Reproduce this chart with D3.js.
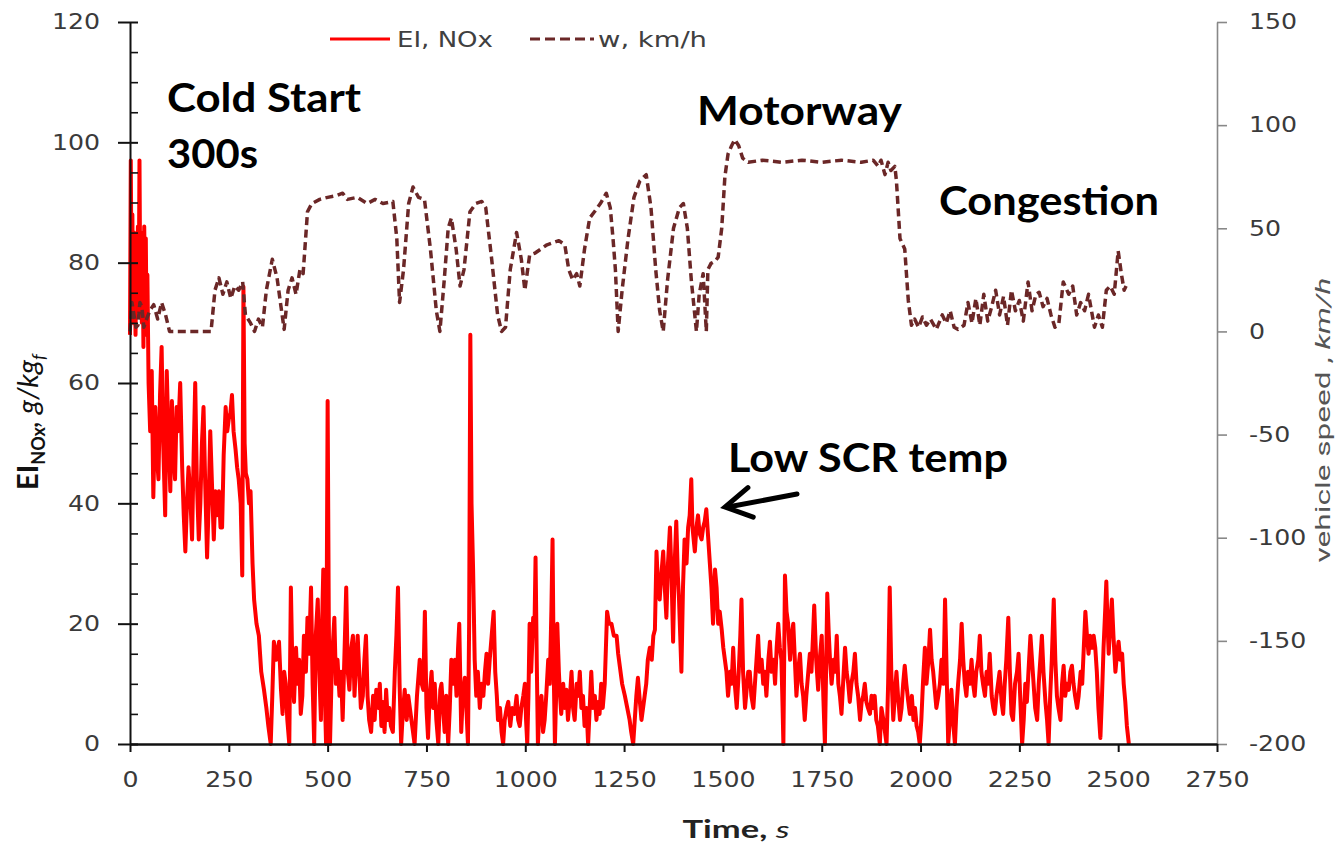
<!DOCTYPE html>
<html><head><meta charset="utf-8">
<script src="https://cdn.jsdelivr.net/npm/d3@7/dist/d3.min.js"></script>
<style>body{margin:0;background:#fff;} svg{display:block;}</style>
</head><body>
<svg id="chart" width="1335" height="844"></svg>
<script>
// ---------------- DATA ----------------
const xTicks = [0,250,500,750,1000,1250,1500,1750,2000,2250,2500,2750];
const yLeftTicks = [0,20,40,60,80,100,120];
const yRightTicks = [-200,-150,-100,-50,0,50,100,150];
const legendLabels = ["EI, NOx", "w, km/h"];
const annotationTexts = ["Cold Start", "300s", "Motorway", "Congestion", "Low SCR temp"];

// EI NOx [time s, g/kg fuel]
const noxPoints = [[0,68],[2,97],[4,75],[6,88],[8,70],[10,85],[12,78],[14,68],[16,80],[18,74],[20,86],[22,72],[24,97],[26,74],[28,85],[30,70],[32,80],[34,66],[36,86],[38,75],[40,84],[42,68],[44,78],[47,60],[51,52],[55,62],[59,41],[64,56],[68,48],[72,44],[76,58],[80,66],[84,50],[89,38],[93,62],[97,52],[102,42],[106,57],[110,48],[114,44],[118,56],[122,52],[127,60],[132,46],[136,38],[140,32],[144,40],[148,46],[152,42],[157,34],[161,48],[165,60],[169,44],[174,34],[178,40],[182,50],[186,56],[190,44],[195,31],[199,40],[203,52],[207,44],[212,34],[216,42],[220,38],[225,42],[229,36],[233,36],[237,48],[242,56],[246,52],[250,54],[254,55],[258,58],[262,52],[267,49],[271,46],[275,44],[280,40],[284,28],[287,76],[290,50],[293,45],[297,44],[301,40],[305,42],[310,30],[314,24],[320,20],[326,18],[332,12],[339,9],[345,6],[350,3],[356,0],[360,8],[364,17],[370,14],[377,17],[382,9],[386,5],[390,12],[394,10],[398,4],[403,0],[407,26],[411,12],[415,7],[420,16],[424,10],[428,14],[432,5],[436,8],[440,18],[445,12],[449,21],[453,15],[458,26],[462,10],[466,0],[470,18],[475,24],[479,12],[483,4],[486,20],[489,29],[493,8],[496,0],[500,57],[503,20],[506,0],[511,14],[517,21],[521,10],[525,14],[530,8],[534,12],[538,4],[543,16],[547,26],[551,12],[555,9],[560,16],[564,18],[568,8],[572,14],[576,18],[580,12],[584,6],[589,8],[593,14],[597,18],[601,8],[605,4],[610,2],[615,8],[619,4],[623,9],[628,6],[632,10],[636,3],[640,7],[644,2],[648,9],[652,4],[656,6],[660,3],[665,2],[670,12],[674,18],[678,26],[682,10],[686,0],[690,5],[695,9],[700,4],[704,8],[708,6],[714,3],[720,0],[726,8],[733,14],[738,10],[742,9],[746,22],[750,6],[754,1],[758,8],[763,12],[767,6],[771,10],[775,4],[780,0],[785,9],[788,10],[792,6],[796,2],[800,8],[805,0],[809,6],[813,14],[818,10],[822,14],[826,8],[830,16],[833,20],[838,2],[842,8],[847,11],[851,6],[855,0],[858,20],[861,68],[864,40],[868,29],[872,14],[876,8],[880,12],[885,6],[889,10],[894,8],[898,12],[902,15],[906,10],[910,14],[915,18],[920,22],[924,12],[928,8],[931,4],[936,6],[940,2],[944,0],[948,4],[953,6],[957,7],[962,3],[967,6],[973,5],[978,8],[982,4],[986,3],[990,6],[995,8],[999,10],[1002,4],[1005,0],[1008,8],[1011,20],[1015,12],[1020,21],[1023,18],[1026,31],[1029,14],[1032,0],[1036,6],[1041,8],[1045,2],[1049,4],[1053,8],[1058,14],[1062,10],[1066,22],[1069,34],[1072,12],[1075,0],[1078,8],[1081,20],[1085,12],[1088,8],[1091,5],[1096,10],[1100,6],[1104,9],[1108,4],[1113,8],[1117,12],[1121,6],[1125,4],[1130,10],[1134,8],[1138,12],[1142,6],[1146,8],[1150,3],[1155,6],[1159,0],[1163,6],[1167,12],[1171,6],[1176,8],[1180,4],[1184,7],[1188,5],[1192,10],[1196,6],[1201,10],[1204,16],[1207,22],[1212,20],[1218,20],[1224,18],[1231,18],[1235,15],[1239,13],[1245,10],[1252,8],[1258,6],[1264,4],[1268,2],[1273,0],[1277,4],[1281,8],[1285,11],[1290,7],[1294,4],[1298,6],[1302,8],[1306,10],[1310,14],[1315,16],[1320,14],[1324,18],[1328,19],[1332,32],[1336,26],[1340,24],[1344,28],[1349,32],[1353,26],[1357,21],[1361,30],[1366,36],[1370,28],[1374,17],[1378,30],[1382,37],[1386,28],[1389,24],[1392,18],[1395,12],[1399,26],[1403,34],[1408,30],[1412,36],[1416,38],[1420,44],[1423,36],[1426,34],[1429,32],[1433,36],[1437,38],[1441,35],[1446,34],[1450,36],[1454,37],[1458,39],[1462,35],[1467,30],[1471,26],[1475,20],[1480,29],[1484,26],[1488,20],[1492,22],[1497,19],[1501,16],[1505,14],[1509,12],[1513,8],[1518,12],[1522,10],[1526,16],[1530,10],[1535,6],[1540,12],[1544,18],[1547,24],[1551,12],[1556,6],[1560,9],[1564,12],[1568,12],[1572,8],[1577,6],[1581,10],[1585,14],[1589,18],[1593,12],[1598,14],[1602,10],[1606,12],[1610,8],[1615,14],[1619,17],[1623,12],[1628,14],[1632,10],[1636,16],[1640,20],[1644,16],[1648,14],[1651,6],[1653,0],[1657,28],[1661,22],[1665,20],[1670,14],[1674,18],[1678,20],[1682,14],[1686,8],[1690,12],[1695,15],[1699,10],[1703,8],[1707,4],[1711,8],[1716,12],[1720,15],[1724,12],[1728,18],[1731,23],[1736,14],[1741,9],[1745,14],[1750,18],[1754,8],[1758,0],[1761,12],[1764,25],[1768,18],[1771,14],[1775,10],[1780,14],[1784,12],[1788,18],[1792,10],[1796,8],[1800,5],[1804,10],[1809,16],[1813,12],[1817,10],[1821,7],[1825,10],[1830,12],[1834,15],[1838,10],[1842,8],[1847,4],[1851,7],[1855,8],[1859,10],[1863,7],[1867,6],[1872,5],[1876,8],[1880,6],[1884,8],[1888,4],[1892,3],[1897,0],[1901,6],[1906,4],[1910,2],[1914,0],[1918,10],[1922,26],[1926,12],[1931,4],[1935,8],[1939,12],[1943,8],[1948,4],[1952,6],[1956,10],[1960,13],[1964,10],[1969,7],[1973,5],[1978,8],[1982,4],[1986,6],[1990,3],[1994,2],[1998,0],[2002,4],[2006,10],[2011,16],[2015,10],[2020,14],[2024,19],[2028,14],[2032,12],[2036,9],[2040,6],[2045,8],[2049,10],[2053,14],[2058,10],[2062,24],[2066,12],[2070,0],[2074,4],[2078,9],[2082,4],[2087,0],[2091,6],[2095,10],[2100,14],[2104,20],[2108,14],[2112,10],[2116,8],[2120,12],[2125,10],[2129,14],[2133,10],[2137,8],[2141,12],[2146,14],[2150,18],[2154,12],[2158,10],[2163,8],[2167,12],[2171,10],[2175,15],[2180,8],[2184,6],[2188,5],[2192,8],[2196,10],[2200,12],[2205,7],[2209,5],[2213,10],[2217,14],[2222,21],[2226,12],[2230,5],[2234,4],[2239,10],[2244,12],[2248,15],[2252,8],[2257,0],[2261,4],[2265,10],[2269,7],[2273,12],[2278,18],[2282,14],[2286,10],[2290,6],[2295,4],[2299,10],[2303,14],[2307,18],[2311,12],[2316,7],[2320,4],[2324,0],[2328,8],[2332,14],[2337,24],[2341,14],[2345,8],[2349,6],[2354,4],[2358,10],[2362,13],[2366,8],[2370,10],[2375,9],[2379,12],[2383,13],[2387,10],[2391,8],[2396,6],[2400,8],[2405,12],[2409,10],[2413,16],[2417,22],[2421,18],[2425,15],[2429,18],[2434,16],[2438,18],[2442,16],[2446,12],[2450,6],[2455,1],[2459,8],[2463,16],[2467,22],[2470,27],[2473,20],[2476,15],[2480,20],[2484,24],[2488,18],[2493,12],[2497,15],[2501,17],[2505,14],[2510,15],[2514,10],[2518,7],[2522,3],[2527,0]];

// vehicle speed [time s, km/h]
const speedPoints = [[0,0],[5,14],[10,8],[15,2],[20,3],[25,14],[30,12],[35,2],[40,5],[50,10],[60,13],[70,6],[80,14],[90,8],[100,0],[150,0],[205,0],[215,20],[225,26],[235,18],[245,24],[255,16],[265,22],[275,20],[285,24],[292,8],[305,4],[315,0],[325,6],[335,2],[345,20],[360,35],[372,26],[382,12],[390,1],[400,20],[410,26],[420,18],[430,30],[438,28],[449,58],[460,62],[480,64],[500,65],[525,66],[538,67],[550,64],[575,65],[600,62],[620,64],[640,62],[665,63],[675,45],[682,14],[692,30],[705,62],[716,70],[730,65],[745,64],[760,40],[775,10],[784,0],[795,25],[805,50],[813,55],[825,40],[835,22],[845,30],[860,58],[875,62],[890,63],[900,60],[915,35],[930,8],[940,0],[950,2],[962,30],[978,48],[990,35],[999,20],[1011,37],[1025,38],[1040,40],[1055,42],[1070,43],[1085,44],[1100,42],[1110,30],[1120,25],[1130,28],[1138,22],[1150,40],[1163,55],[1175,58],[1190,62],[1205,67],[1215,60],[1222,45],[1228,30],[1235,0],[1245,20],[1260,45],[1275,65],[1290,73],[1306,76],[1318,60],[1330,30],[1340,10],[1349,0],[1360,25],[1375,50],[1390,60],[1400,62],[1410,50],[1420,25],[1433,0],[1440,18],[1450,28],[1458,0],[1462,30],[1470,33],[1480,34],[1488,36],[1497,50],[1505,75],[1513,86],[1522,90],[1530,93],[1540,90],[1550,84],[1564,82],[1600,83],[1650,82],[1700,83],[1750,82],[1800,83],[1850,82],[1880,83],[1893,80],[1900,83],[1910,76],[1918,82],[1925,78],[1935,80],[1939,73],[1948,45],[1960,40],[1969,15],[1977,3],[1985,6],[1995,2],[2005,7],[2015,3],[2025,6],[2040,1],[2055,8],[2065,4],[2075,10],[2085,2],[2095,1],[2110,3],[2120,14],[2130,4],[2140,16],[2150,3],[2160,18],[2170,5],[2180,12],[2190,20],[2200,8],[2210,17],[2220,3],[2230,20],[2240,10],[2250,15],[2260,5],[2272,24],[2282,10],[2292,18],[2300,19],[2310,12],[2320,16],[2330,8],[2340,2],[2350,4],[2361,24],[2375,18],[2385,22],[2395,8],[2405,14],[2415,10],[2425,18],[2440,2],[2450,8],[2460,2],[2470,20],[2480,22],[2490,18],[2500,39],[2508,28],[2515,20],[2520,22]];

// ---------------- LAYOUT ----------------
const svg = d3.select("#chart");
const X0 = 130, X1 = 1217, Y0 = 744, Y1 = 22;
const x = d3.scaleLinear().domain([0, 2750]).range([X0, X1]);
const yL = d3.scaleLinear().domain([0, 120]).range([Y0, Y1]);
const yR = d3.scaleLinear().domain([-200, 150]).range([Y0, Y1]);
const tickFont = "'DejaVu Sans', Verdana, sans-serif";
const annFont = "Lato, 'Open Sans', sans-serif";
const plainFmt = d => String(d);

function stretch(sel, k) {
  sel.each(function () {
    const w = this.getComputedTextLength();
    d3.select(this).attr("textLength", w * k).attr("lengthAdjust", "spacingAndGlyphs");
  });
}

// NOx line
svg.append("path").datum(noxPoints)
  .attr("d", d3.line().x(d => x(d[0])).y(d => yL(d[1])))
  .attr("fill", "none").attr("stroke", "#ff0000").attr("stroke-width", 4)
  .attr("stroke-linejoin", "round");

// speed line
svg.append("path").datum(speedPoints)
  .attr("d", d3.line().x(d => x(d[0])).y(d => yR(d[1])))
  .attr("fill", "none").attr("stroke", "#6b2727").attr("stroke-width", 3.5)
  .attr("stroke-dasharray", "8,4.5").attr("stroke-linejoin", "round");

// Left axis (major)
const gL = svg.append("g").attr("transform", `translate(${X0},0)`)
  .call(d3.axisLeft(yL).tickValues(yLeftTicks).tickFormat(plainFmt).tickSizeInner(12).tickSizeOuter(0).tickPadding(18));
gL.select(".domain").attr("stroke", "#111").attr("stroke-width", 2);
gL.selectAll(".tick line").attr("x1", 8).attr("stroke", "#111").attr("stroke-width", 2);
gL.selectAll(".tick text").attr("font-family", tickFont).attr("font-size", 21).attr("fill", "#3a3a3a");
stretch(gL.selectAll(".tick text"), 1.2);
// Left minor ticks
const minorVals = d3.range(0, 121, 5).filter(v => v % 20 !== 0);
const gLm = svg.append("g").attr("transform", `translate(${X0},0)`)
  .call(d3.axisLeft(yL).tickValues(minorVals).tickSize(-8).tickFormat(""));
gLm.select(".domain").remove();
gLm.selectAll(".tick line").attr("stroke", "#111").attr("stroke-width", 1.6);

// Right axis
const gR = svg.append("g").attr("transform", `translate(${X1},0)`)
  .call(d3.axisRight(yR).tickValues(yRightTicks).tickFormat(plainFmt).tickSizeInner(10).tickSizeOuter(0).tickPadding(22));
gR.select(".domain").attr("stroke", "#888").attr("stroke-width", 1.6);
gR.selectAll(".tick line").attr("stroke", "#888").attr("stroke-width", 1.6);
gR.selectAll(".tick text").attr("font-family", tickFont).attr("font-size", 21).attr("fill", "#3a3a3a");
stretch(gR.selectAll(".tick text"), 1.2);

// Bottom axis
const gB = svg.append("g").attr("transform", `translate(0,${Y0})`)
  .call(d3.axisBottom(x).tickValues(xTicks).tickFormat(plainFmt).tickSizeInner(8).tickSizeOuter(0).tickPadding(20));
gB.select(".domain").attr("stroke", "#111").attr("stroke-width", 2.6);
gB.selectAll(".tick line").attr("stroke", "#111").attr("stroke-width", 2);
gB.selectAll(".tick text").attr("font-family", tickFont).attr("font-size", 21).attr("fill", "#3a3a3a");
stretch(gB.selectAll(".tick text"), 1.2);

// Legend
svg.append("line").attr("x1", 330).attr("x2", 390).attr("y1", 39).attr("y2", 39)
  .attr("stroke", "#ff0000").attr("stroke-width", 3.2);
svg.append("text").attr("x", 397).attr("y", 47).text(legendLabels[0])
  .attr("font-family", tickFont).attr("font-size", 20.5).attr("fill", "#404040")
  .attr("textLength", 96).attr("lengthAdjust", "spacingAndGlyphs");
svg.append("line").attr("x1", 530).attr("x2", 594).attr("y1", 39).attr("y2", 39)
  .attr("stroke", "#6b2727").attr("stroke-width", 3.2).attr("stroke-dasharray", "10,5");
svg.append("text").attr("x", 598).attr("y", 47).text(legendLabels[1])
  .attr("font-family", tickFont).attr("font-size", 20.5).attr("fill", "#404040")
  .attr("textLength", 109).attr("lengthAdjust", "spacingAndGlyphs");

// Annotations
const annPos = [[167,112,194],[167,168,91],[697,125,205],[939,215,220],[728,472,280]];
annotationTexts.forEach((t, i) => {
  svg.append("text").attr("x", annPos[i][0]).attr("y", annPos[i][1]).text(t)
    .attr("font-family", annFont).attr("font-weight", 700).attr("font-size", 40)
    .attr("fill", "#000").attr("textLength", annPos[i][2]).attr("lengthAdjust", "spacingAndGlyphs");
});

// Arrow
const tail = [797, 494], tip = [725, 507];
const ang = Math.atan2(tail[1] - tip[1], tail[0] - tip[0]);
const wl = 30, wa = Math.PI / 6;
svg.append("line").attr("x1", tail[0]).attr("y1", tail[1]).attr("x2", tip[0] + 3).attr("y2", tip[1])
  .attr("stroke", "#000").attr("stroke-width", 5).attr("stroke-linecap", "round");
svg.append("polyline")
  .attr("points", [[tip[0] + wl * Math.cos(ang + wa), tip[1] + wl * Math.sin(ang + wa)], tip,
                   [tip[0] + wl * Math.cos(ang - wa), tip[1] + wl * Math.sin(ang - wa)]].map(p => p.join(",")).join(" "))
  .attr("fill", "none").attr("stroke", "#000").attr("stroke-width", 5)
  .attr("stroke-linecap", "round").attr("stroke-linejoin", "miter");

// Left y-axis title
const tL = svg.append("text").attr("transform", "translate(38,490) rotate(-90)")
  .attr("font-family", annFont).attr("font-size", 29).attr("fill", "#111");
tL.append("tspan").attr("font-weight", 700).text("EI");
tL.append("tspan").attr("font-weight", 700).attr("font-size", 18).attr("dy", 7).text("NOx");
tL.append("tspan").attr("font-style", "italic").attr("dy", -7).text(", g/kg");
tL.append("tspan").attr("font-style", "italic").attr("font-size", 18).attr("dy", 7).text("f");

// Right y-axis title
const tR = svg.append("text").attr("transform", "translate(1330,420) rotate(-90)")
  .attr("text-anchor", "middle").attr("font-family", "'Liberation Sans Narrow', 'Roboto', sans-serif")
  .attr("font-size", 20).attr("fill", "#555")
  .attr("textLength", 285).attr("lengthAdjust", "spacingAndGlyphs");
tR.append("tspan").text("vehicle speed , ");
tR.append("tspan").attr("font-style", "italic").text("km/h");

// X-axis title
const tX = svg.append("text").attr("x", 736).attr("y", 838).attr("text-anchor", "middle")
  .attr("font-family", annFont).attr("font-size", 24).attr("fill", "#222")
  .attr("textLength", 107).attr("lengthAdjust", "spacingAndGlyphs");
tX.append("tspan").attr("font-weight", 700).text("Time, ");
tX.append("tspan").attr("font-style", "italic").text("s");
</script>
</body></html>
